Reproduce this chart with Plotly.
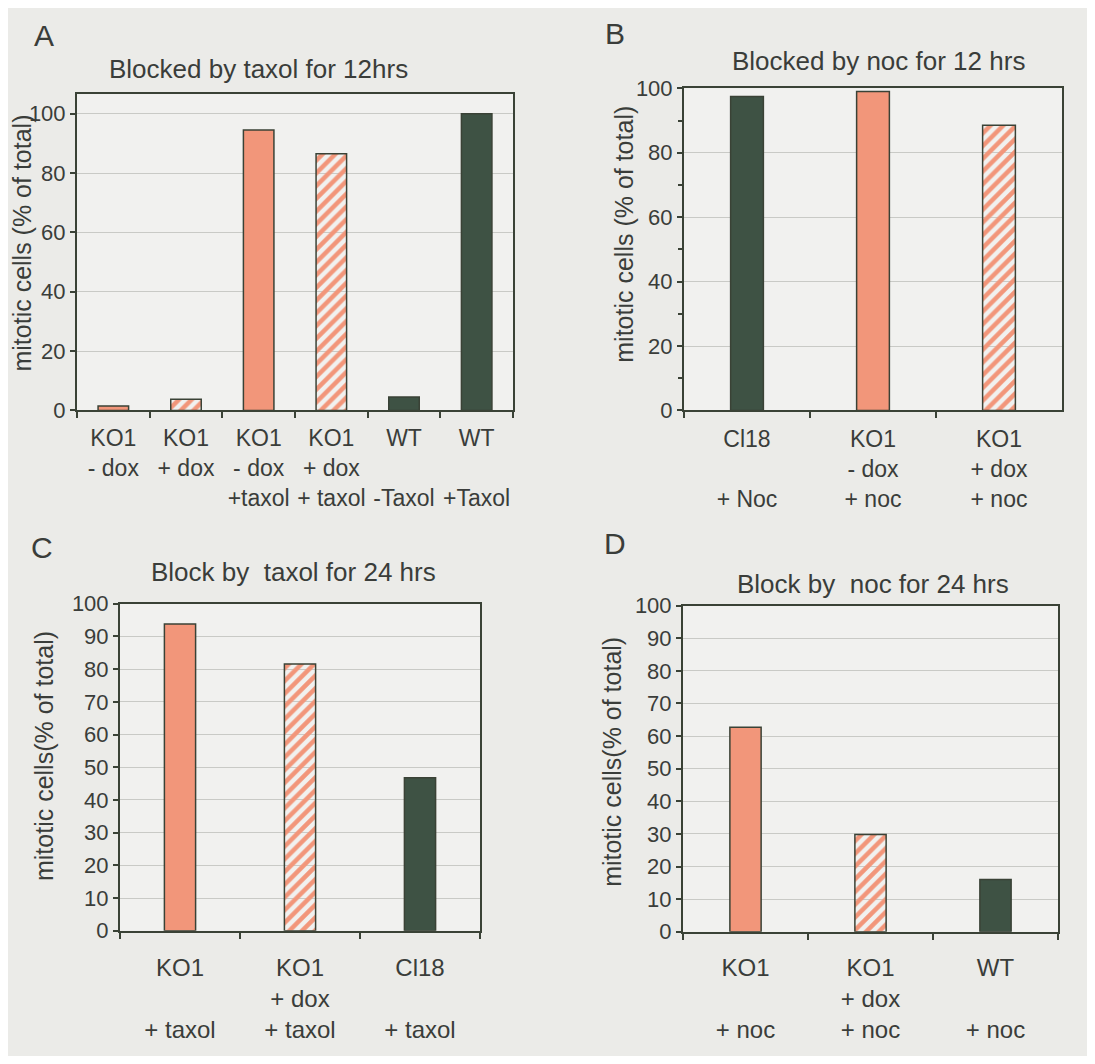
import plotly.graph_objects as go

# ---------------- data ----------------
a_labels = ["KO1<br>- dox", "KO1<br>+ dox", "KO1<br>- dox<br>+taxol",
            "KO1<br>+ dox<br>+ taxol", "WT<br><br>-Taxol", "WT<br><br>+Taxol"]
a_values = [1.5, 3.8, 94.5, 86.5, 4.5, 100]
a_kinds = ["solid", "hatch", "solid", "hatch", "dark", "dark"]

b_labels = ["Cl18<br><br>+ Noc", "KO1<br>- dox<br>+ noc", "KO1<br>+ dox<br>+ noc"]
b_values = [97.5, 99, 88.5]
b_kinds = ["dark", "solid", "hatch"]

c_labels = ["KO1<br><br>+ taxol", "KO1<br>+ dox<br>+ taxol", "Cl18<br><br>+ taxol"]
c_values = [93.8, 81.6, 46.8]
c_kinds = ["solid", "hatch", "dark"]

d_labels = ["KO1<br><br>+ noc", "KO1<br>+ dox<br>+ noc", "WT<br><br>+ noc"]
d_values = [62.7, 29.8, 16]
d_kinds = ["solid", "hatch", "dark"]

titles = ["Blocked by taxol for 12hrs", "Blocked by noc for 12 hrs",
          "Block by  taxol for 24 hrs", "Block by  noc for 24 hrs"]
ytitles = ["mitotic cells (% of total)", "mitotic cells (% of total)",
           "mitotic cells(% of total)", "mitotic cells(% of total)"]
letters = ["A", "B", "C", "D"]

# ---------------- style ----------------
OFF = 8                      # page body margin
W, H = 1095 - 2 * OFF, 1064 - 2 * OFF
SALMON = "#F2967A"
HATCHBG = "#FCF2EE"
DARK = "#3E5244"
EDGE = "#3A4236"
TXT = "#3A3D3A"
BG = "#EBEBE8"
PLOTBG = "#F1F1EF"
GRID = "#C9CAC6"
FONT = "Liberation Sans, Arial, sans-serif"

def fx(px):
    return (px - OFF) / W

def fy(py):
    return 1 - (py - OFF) / H

panels = [
    dict(labels=a_labels, values=a_values, kinds=a_kinds,
         x=(77, 513), y=(84, 408), yr=[0, 106.6], dt=20, minor=False,
         width=0.42, tickfs=23, standoff=6, title_xy=(258, 58), yt_xy=(22, 237),
         letter_xy=(44, 24)),
    dict(labels=b_labels, values=b_values, kinds=b_kinds,
         x=(684, 1062), y=(78, 408), yr=[0, 100], dt=20, minor=True,
         width=0.26, tickfs=23, standoff=7, title_xy=(878, 50), yt_xy=(624, 228),
         letter_xy=(615, 22)),
    dict(labels=c_labels, values=c_values, kinds=c_kinds,
         x=(120, 480), y=(606, 941), yr=[0, 100], dt=10, minor=False,
         width=0.26, tickfs=24, standoff=14, title_xy=(293, 574), yt_xy=(44, 762),
         letter_xy=(42, 548)),
    dict(labels=d_labels, values=d_values, kinds=d_kinds,
         x=(683, 1058), y=(608, 942), yr=[0, 100], dt=10, minor=False,
         width=0.25, tickfs=24, standoff=13, title_xy=(873, 586), yt_xy=(612, 768),
         letter_xy=(615, 544)),
]

fig = go.Figure()
annotations = []

for i, p in enumerate(panels):
    n = i + 1
    xa = "x" if n == 1 else f"x{n}"
    ya = "y" if n == 1 else f"y{n}"
    colors, shapes = [], []
    for k in p["kinds"]:
        if k == "solid":
            colors.append(SALMON); shapes.append("")
        elif k == "hatch":
            colors.append(SALMON); shapes.append("/")
        else:
            colors.append(DARK); shapes.append("")
    fig.add_trace(go.Bar(
        x=p["labels"], y=p["values"], xaxis=xa, yaxis=ya,
        width=p["width"],
        marker=dict(color=colors, line=dict(color=EDGE, width=1.5),
                    pattern=dict(shape=shapes, fgcolor=SALMON, bgcolor=HATCHBG,
                                 size=9, solidity=0.5, fillmode="replace")),
        showlegend=False, hoverinfo="skip"))

    xkey = "xaxis" if n == 1 else f"xaxis{n}"
    ykey = "yaxis" if n == 1 else f"yaxis{n}"
    ydict = dict(domain=[fy(p["y"][1]), fy(p["y"][0])], anchor=xa,
                 range=p["yr"], dtick=p["dt"], tick0=0,
                 showline=True, linecolor=EDGE, linewidth=2, mirror=True,
                 ticks="outside", ticklen=5, tickcolor=EDGE, tickwidth=1.5,
                 tickfont=dict(family=FONT, size=22, color=TXT),
                 showgrid=True, gridcolor=GRID, gridwidth=1,
                 zeroline=False, fixedrange=True)
    if p["minor"]:
        ydict["minor"] = dict(dtick=10, ticks="outside", ticklen=4,
                              tickcolor=EDGE, showgrid=False)
    fig.update_layout(**{
        xkey: dict(domain=[fx(p["x"][0]), fx(p["x"][1])], anchor=ya,
                   type="category", showline=True, linecolor=EDGE, linewidth=2,
                   mirror=True, ticks="outside", tickson="boundaries",
                   ticklen=6, tickcolor=EDGE, tickwidth=1.5, tickangle=0,
                   ticklabelstandoff=p["standoff"],
                   tickfont=dict(family=FONT, size=p["tickfs"], color=TXT),
                   showgrid=False, fixedrange=True),
        ykey: ydict,
    })

    annotations.append(dict(text=titles[i], x=fx(p["title_xy"][0]), y=fy(p["title_xy"][1]),
                            xref="paper", yref="paper", showarrow=False,
                            xanchor="center", yanchor="middle",
                            font=dict(family=FONT, size=26, color=TXT)))
    annotations.append(dict(text=ytitles[i], x=fx(p["yt_xy"][0]), y=fy(p["yt_xy"][1]),
                            xref="paper", yref="paper", showarrow=False, textangle=-90,
                            xanchor="center", yanchor="middle",
                            font=dict(family=FONT, size=25, color=TXT)))
    annotations.append(dict(text=letters[i], x=fx(p["letter_xy"][0]), y=fy(p["letter_xy"][1]),
                            xref="paper", yref="paper", showarrow=False,
                            xanchor="center", yanchor="middle",
                            font=dict(family=FONT, size=30, color=TXT)))

fig.update_layout(
    width=W, height=H,
    margin=dict(l=0, r=0, t=0, b=0),
    paper_bgcolor=BG, plot_bgcolor=PLOTBG,
    annotations=annotations,
    font=dict(family=FONT, color=TXT),
)

fig.write_html("out.html")
